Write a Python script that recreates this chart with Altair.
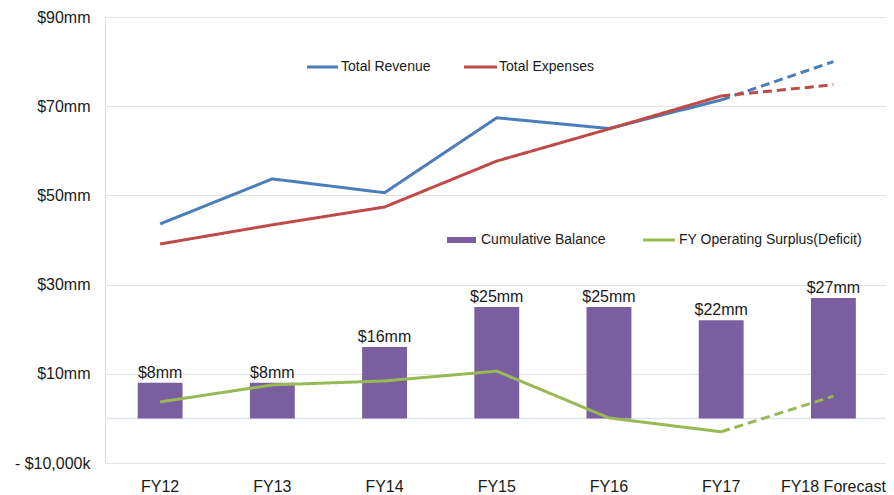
import altair as alt
import pandas as pd

# ---- data ----
categories = ["FY12", "FY13", "FY14", "FY15", "FY16", "FY17", "FY18 Forecast"]
revenue = [43.6, 53.7, 50.6, 67.4, 65.0, 71.4, 80.0]
expenses = [39.1, 43.4, 47.4, 57.7, 64.9, 72.3, 74.8]
surplus = [3.7, 7.5, 8.4, 10.6, 0.1, -3.0, 5.0]
balance = [8, 8, 16, 25, 25, 22, 27]
bar_labels = ["$8mm", "$8mm", "$16mm", "$25mm", "$25mm", "$22mm", "$27mm"]
line_series = ["Total Revenue", "Total Expenses", "FY Operating Surplus(Deficit)"]
bar_series = "Cumulative Balance"
y_tick_values = [-10, 10, 30, 50, 70, 90]
y_tick_labels = ["- $10,000k", "$10mm", "$30mm", "$50mm", "$70mm", "$90mm"]
forecast_from = "FY17"

# ---- styles ----
BLUE, RED, GREEN, PURPLE = "#4a7ebb", "#be4b48", "#98b954", "#7a5fa0"
FONT = "Liberation Sans"
TXT = "#1a1a1a"

bars_df = pd.DataFrame({"category": categories, "balance": balance, "label": bar_labels})

fi = categories.index(forecast_from)
rows = []
for name, vals in zip(line_series, [revenue, expenses, surplus]):
    for i, (c, v) in enumerate(zip(categories, vals)):
        if i <= fi:
            rows.append(dict(series=name, segment="actual", category=c, idx=i, value=v))
        if i >= fi:
            rows.append(dict(series=name, segment="forecast", category=c, idx=i, value=v))
lines_df = pd.DataFrame(rows)

label_expr = "".join(
    f"datum.value == {v} ? '{l}' : " for v, l in zip(y_tick_values, y_tick_labels)
) + "''"

xscale = alt.Scale(domain=categories, paddingInner=0.6, paddingOuter=0.28, align=0.52)
xaxis = alt.Axis(title=None, labelAngle=0, domain=False, ticks=False, grid=False,
                 labelFontSize=16, labelPadding=15, labelColor=TXT, labelFont=FONT)
yscale = alt.Scale(domain=[-10, 90], nice=False, zero=False)
yaxis = alt.Axis(title=None, values=y_tick_values, labelExpr=label_expr, domain=False,
                 ticks=False, grid=True, gridColor="#e3e3e3", gridWidth=1,
                 labelFontSize=16, labelPadding=15, labelColor=TXT, labelFont=FONT)

X = alt.X("category:N", sort=categories, scale=xscale, axis=xaxis)

bars = alt.Chart(bars_df).mark_bar(color=PURPLE).encode(
    x=X, y=alt.Y("balance:Q", scale=yscale, axis=yaxis)
)
bar_text = alt.Chart(bars_df).mark_text(
    baseline="bottom", dy=-2, fontSize=16, font=FONT, color=TXT
).encode(x=X, y=alt.Y("balance:Q", scale=yscale, axis=yaxis), text="label:N")

zero = alt.Chart(alt.InlineData(values=[{}])).mark_rule(color="#dfe6ef", strokeWidth=1.5).encode(
    y=alt.datum(0, scale=yscale, axis=yaxis)
)

lines = alt.Chart(lines_df).mark_line(strokeWidth=3).encode(
    x=X,
    y=alt.Y("value:Q", scale=yscale, axis=yaxis),
    color=alt.Color("series:N", scale=alt.Scale(domain=line_series, range=[BLUE, RED, GREEN]), legend=None),
    strokeDash=alt.StrokeDash("segment:N", scale=alt.Scale(domain=["actual", "forecast"], range=[[1, 0], [9, 5]]), legend=None),
    detail="segment:N",
    order="idx:Q",
)

one = alt.InlineData(values=[{}])

def leg_line(x1, x2, y, color):
    return alt.Chart(one).mark_rule(color=color, strokeWidth=3).encode(
        x=alt.value(x1), x2=alt.value(x2), y=alt.value(y))

def leg_text(x, y, t):
    return alt.Chart(one).mark_text(align="left", baseline="middle", fontSize=14, font=FONT, color=TXT).encode(
        x=alt.value(x), y=alt.value(y), text=alt.value(t))

legend = [
    leg_line(202, 233, 50, BLUE), leg_text(236, 50, line_series[0]),
    leg_line(359, 392, 50, RED), leg_text(394, 50, line_series[1]),
    alt.Chart(one).mark_rect(color=PURPLE).encode(
        x=alt.value(342), x2=alt.value(371), y=alt.value(220), y2=alt.value(226)),
    leg_text(376, 223, bar_series),
    leg_line(538, 570, 223, GREEN), leg_text(574, 223, line_series[2]),
]

chart = alt.layer(zero, bars, bar_text, lines, *legend).properties(
    width=781, height=446,
    autosize=alt.AutoSizeParams(type="none"),
    padding={"left": 97, "top": 9, "right": 0, "bottom": 32},
).configure_view(stroke=None).configure(font=FONT)

chart.save("out.html", embed_options={"renderer": "svg", "actions": False})
